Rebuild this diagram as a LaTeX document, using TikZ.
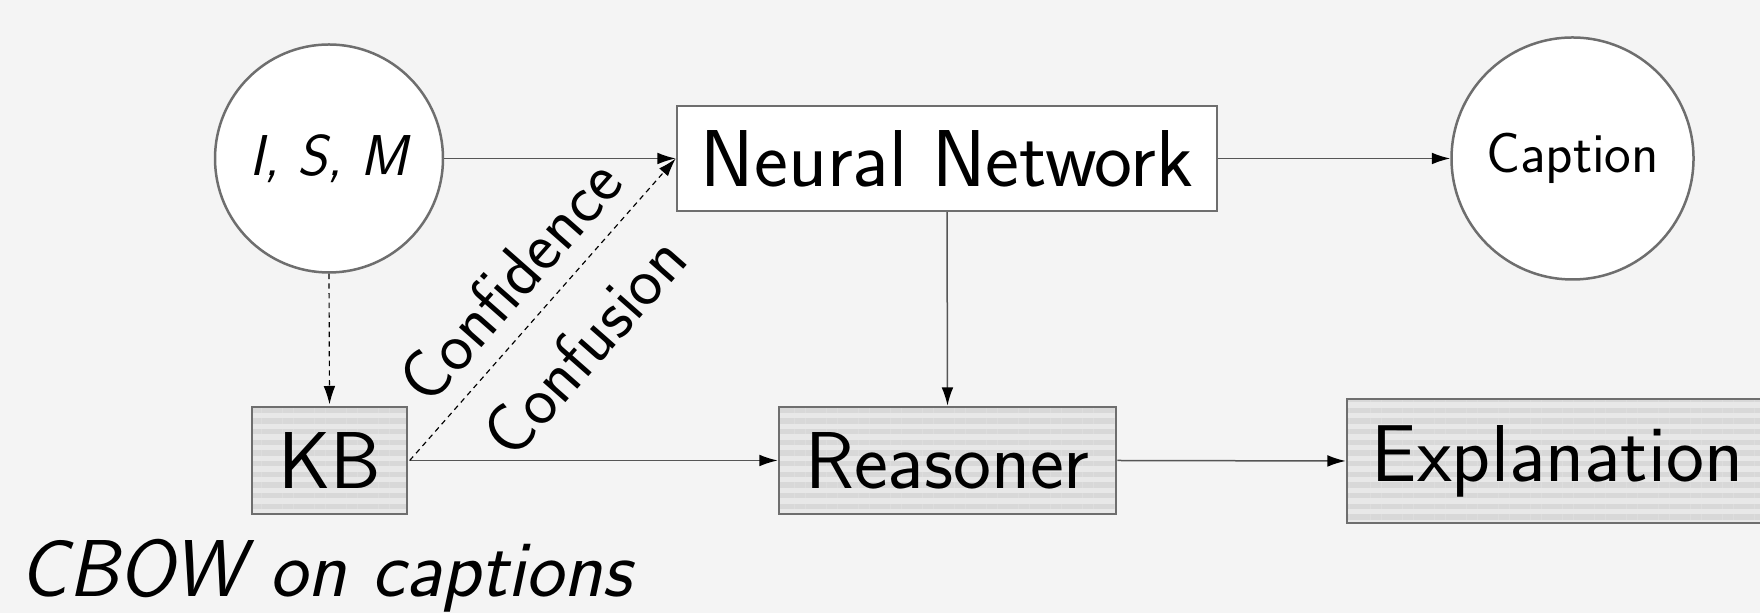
\documentclass[tikz,border=0pt]{standalone}
\usetikzlibrary{arrows.meta,patterns.meta}
\definecolor{bgcol}{HTML}{F4F4F4}
\definecolor{bordercol}{HTML}{6E6E6E}
\definecolor{linecol}{HTML}{555555}
\definecolor{stripeL}{HTML}{E8E8E8}
\definecolor{stripeD}{HTML}{D8D8D8}
\newcommand\fsz[1]{\fontsize{#1}{#1}\selectfont}
\tikzset{
  circnode/.style={circle, draw=bordercol, line width=0.75pt, fill=white, inner sep=0pt},
  whitebox/.style={rectangle, draw=bordercol, line width=0.75pt, fill=white, inner sep=0pt},
  stripebox/.style={rectangle, draw=bordercol, line width=0.75pt, inner sep=0pt,
    preaction={fill=stripeL},
    pattern={Lines[distance=3.2pt, line width=1.6pt, angle=0]}, pattern color=stripeD},
  bigtext/.style={font=\sffamily\fsz{24.2}},
  labeltext/.style={font=\sffamily\fsz{20.74}},
  conn/.style={draw=linecol, line width=0.45pt, -{Latex[length=5.5pt, width=3.5pt, color=black]}},
  dconn/.style={draw=black, line width=0.35pt, dash pattern=on 1.6pt off 1.3pt, -{Latex[length=5.5pt, width=3.5pt, color=black]}},
}
\begin{document}
\begin{tikzpicture}[x=0.3pt, y=-0.3pt]
  \useasboundingbox (0,0) rectangle (1760,613);
  \fill[bgcol] (0,0) rectangle (1760,613);
  \clip (0,0) rectangle (1760,613);

  \node[circnode, minimum size=68.4pt, font=\sffamily\itshape\fsz{17.28}] (ism) at (329,158.5) {I, S, M};
  \node[whitebox, minimum width=162pt, minimum height=31.5pt, bigtext] (nn) at (947,158.5) {Neural Network};
  \node[circnode, minimum size=72.6pt, font=\sffamily\fsz{17}] (cap) at (1572.5,158.5) {Caption};
  \node[stripebox, minimum width=46.5pt, minimum height=32.1pt, bigtext] (kb) at (329.5,460.5) {KB};
  \node[stripebox, minimum width=101.1pt, minimum height=32.1pt, bigtext] (rea) at (947.5,460.5) {Reasoner};
  \node[stripebox, minimum width=126.3pt, minimum height=37.2pt, bigtext] (exp) at (1557.5,461) {Explanation};
  \node[anchor=base west, inner sep=0pt, font=\sffamily\itshape\fsz{24.2}] (cbow) at (19,597) {CBOW on captions};

  \draw[conn] (ism.east) -- (nn.west);
  \draw[conn] (nn.east) -- (cap.west);
  \draw[conn] (nn.south) -- (rea.north);
  \draw[conn] (kb.east) -- (rea.west);
  \draw[conn] (rea.east) -- (exp.west);
  \draw[dconn] (ism.south) -- (kb.north);
  \draw[dconn] (kb.east) -- (nn.west)
    node[midway, sloped, above=5.7pt, inner sep=0pt, labeltext] (conf) {Confidence}
    node[midway, sloped, below=9pt, inner sep=0pt, labeltext] (confu) {Confusion};
\end{tikzpicture}
\end{document}
